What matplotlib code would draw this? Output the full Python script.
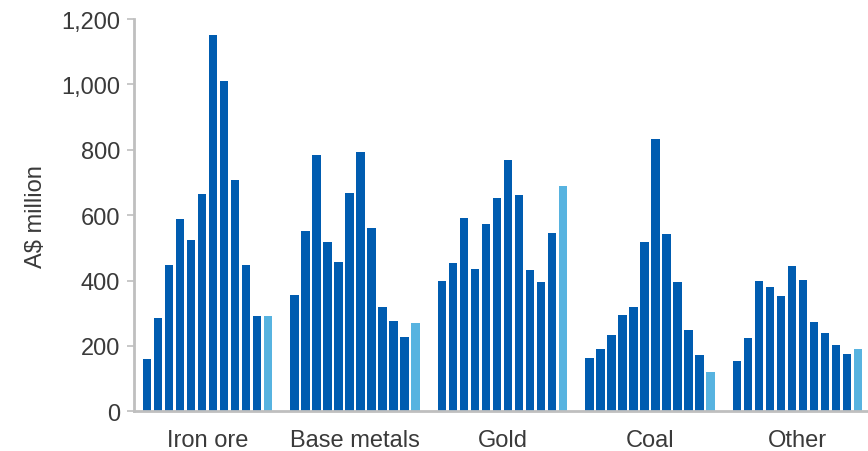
import numpy as np
import matplotlib
matplotlib.use("Agg")
import matplotlib.pyplot as plt

plt.rcParams["font.family"] = ["Liberation Sans", "DejaVu Sans"]

categories = ["Iron ore", "Base metals", "Gold", "Coal", "Other"]

# Twelve yearly values per commodity; the final value in each group is highlighted
iron_ore = [161, 285, 449, 588, 523, 664, 1151, 1011, 709, 447, 290, 290]
base_metals = [357, 553, 783, 518, 456, 668, 794, 562, 320, 277, 228, 270]
gold = [399, 454, 591, 436, 573, 651, 768, 662, 432, 396, 546, 688]
coal = [164, 192, 232, 295, 319, 518, 834, 542, 397, 250, 172, 119]
other = [154, 223, 400, 379, 354, 444, 403, 274, 241, 203, 176, 192]

series = [iron_ore, base_metals, gold, coal, other]

y_ticks = [0, 200, 400, 600, 800, 1000, 1200]
y_tick_labels = ["0", "200", "400", "600", "800", "1,000", "1,200"]

dark_blue = "#005CB0"
light_blue = "#57B3E0"
text_color = "#3A3A3A"
axis_color = "#BFBFBF"

fig = plt.figure(figsize=(8.68, 4.52), dpi=100)
ax = fig.add_axes([134 / 868, 39.7 / 452, 737 / 868, 392.3 / 452])

slot = 11 / 147.25
bar_w = 8.4 / 147.25
for ci, vals in enumerate(series):
    n = len(vals)
    offsets = (np.arange(n) - (n - 1) / 2) * slot
    colors = [dark_blue] * (n - 1) + [light_blue]
    ax.bar(ci + offsets, vals, width=bar_w, color=colors, linewidth=0)

ax.set_xlim(-0.5, len(categories) - 0.5)
ax.set_ylim(0, 1200)
ax.set_yticks(y_ticks)
ax.set_yticklabels(y_tick_labels)
ax.set_xticks(range(len(categories)))
ax.set_xticklabels(categories)

ax.tick_params(axis="y", direction="out", length=5, width=1.2, color=axis_color,
               labelsize=17, labelcolor=text_color, pad=5)
ax.tick_params(axis="x", length=0, labelsize=17, labelcolor=text_color, pad=13)

ax.set_ylabel("A$ million", fontsize=17, color=text_color, labelpad=10)

for side in ["top", "right"]:
    ax.spines[side].set_visible(False)
for side in ["left", "bottom"]:
    ax.spines[side].set_color(axis_color)
    ax.spines[side].set_linewidth(2)

fig.savefig("out.png", dpi=100)
